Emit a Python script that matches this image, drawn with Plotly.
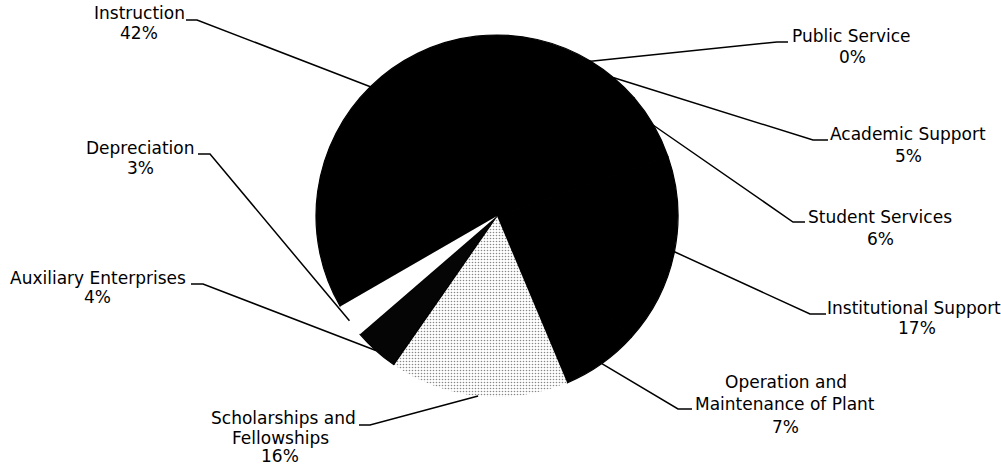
import math
import plotly.graph_objects as go

# ---- data ----
categories = ["Instruction", "Public Service", "Academic Support", "Student Services",
              "Institutional Support", "Operation and\nMaintenance of Plant",
              "Scholarships and\nFellowships", "Auxiliary Enterprises", "Depreciation"]
values = [42, 0, 5, 6, 17, 7, 16, 4, 3]
slice_colors = ["#000000", "#000000", "#000000", "#000000", "#000000", "#000000",
                "#ffffff", "#050505", "#ffffff"]
slice_patterns = ["", "", "", "", "", "", ".", "", ""]
slice_line_widths = [1.2, 1.2, 1.2, 1.2, 1.2, 1.2, 0, 1.2, 0]

# ---- layout geometry (pixels) ----
W, H = 1001, 471
CX, CY, R = 497, 216, 181
ROT = 240

def px(x):
    return x / W

def py(y):
    return 1 - y / H

# label layout: list of (center_x, cap_mid_y) per text line, leader text point, elbow point
label_layout = [
    dict(xs=[139, 139], ys=[13, 33], lead=[(186, 20), (197, 20)]),
    dict(xs=[851, 852], ys=[36, 57], lead=[(788, 42), (777, 42)]),
    dict(xs=[908, 908], ys=[134, 156], lead=[(828, 140), (813, 140)]),
    dict(xs=[880, 880], ys=[217, 239], lead=[(805, 222), (793, 222)]),
    dict(xs=[914, 917], ys=[308, 328], lead=[(826, 314), (810, 314)]),
    dict(xs=[786, 785, 785], ys=[382, 404, 427], lead=[(692, 409), (678, 409)]),
    dict(xs=[283, 280, 280], ys=[418, 438, 456], lead=[(359, 425), (370, 425)]),
    dict(xs=[98, 97], ys=[278, 297], lead=[(191, 284), (203, 284)]),
    dict(xs=[140, 140], ys=[148, 168], lead=[(198, 154), (210, 154)]),
]

fig = go.Figure()
fig.add_trace(go.Pie(
    labels=[c.replace("\n", " ") for c in categories],
    values=values,
    sort=False,
    direction="clockwise",
    rotation=ROT,
    textinfo="none",
    hoverinfo="label+percent",
    marker=dict(
        colors=slice_colors,
        line=dict(color="#000000", width=slice_line_widths),
        pattern=dict(shape=slice_patterns, fgcolor="#111111", bgcolor="#ffffff",
                     size=3, solidity=0.22, fillmode="overlay"),
    ),
    domain=dict(x=[px(CX - R), px(CX + R)], y=[py(CY + R), py(CY - R)]),
    showlegend=False,
))

total = sum(values)
cum = 0.0
shapes = []
annotations = []
FONT = dict(family="DejaVu Sans", size=17, color="#000000")
for cat, v, lay in zip(categories, values, label_layout):
    mid_frac = (cum + v / 2) / total
    cum += v
    ang = math.radians(ROT + 360 * mid_frac)
    ex = CX + R * math.sin(ang)
    ey = CY - R * math.cos(ang)
    (tx, ty), (bx, by) = lay["lead"]
    path = f"M {px(tx)},{py(ty)} L {px(bx)},{py(by)} L {px(ex)},{py(ey)}"
    shapes.append(dict(type="path", xref="paper", yref="paper", path=path,
                       line=dict(color="#000000", width=1.5)))
    lines = cat.split("\n") + [f"{v}%"]
    for t, x, y in zip(lines, lay["xs"], lay["ys"]):
        annotations.append(dict(text=t, x=px(x), y=py(y), xref="paper", yref="paper",
                                xanchor="center", yanchor="middle", showarrow=False,
                                font=FONT))

fig.update_layout(
    width=W, height=H,
    margin=dict(l=0, r=0, t=0, b=0),
    paper_bgcolor="#ffffff",
    plot_bgcolor="#ffffff",
    shapes=shapes,
    annotations=annotations,
)

fig.write_html("out.html", config={"displayModeBar": False},
               post_script="document.body.style.margin='0';")
